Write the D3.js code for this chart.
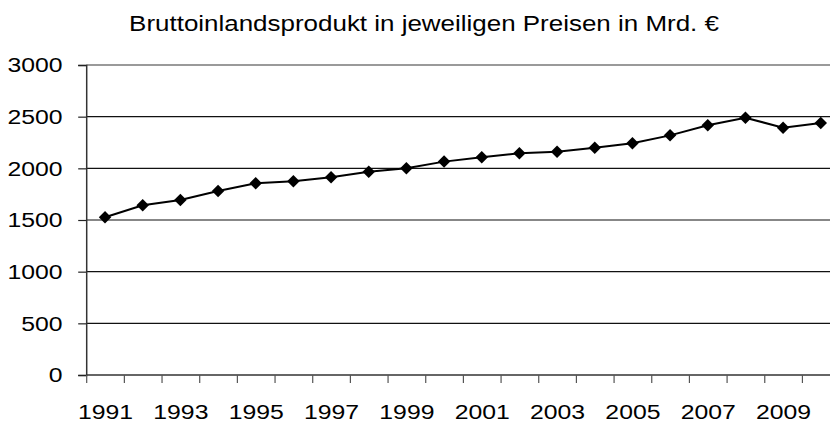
<!DOCTYPE html>
<html>
<head>
<meta charset="utf-8">
<script src="https://cdn.jsdelivr.net/npm/d3@7"></script>
<style>
    body { margin: 0; background: #fff; }
    svg text { font-family: "Liberation Sans", Arial, sans-serif; }
</style>
</head>
<body>
<div id="chart"></div>
<script>
var years = [1991, 1992, 1993, 1994, 1995, 1996, 1997, 1998, 1999, 2000,
             2001, 2002, 2003, 2004, 2005, 2006, 2007, 2008, 2009, 2010];
var gdp = [1526, 1642, 1694, 1781, 1855, 1874, 1913, 1968, 2000, 2065,
           2107, 2145, 2161, 2200, 2242, 2319, 2416, 2490, 2393, 2439];
var yTicks = [0, 500, 1000, 1500, 2000, 2500, 3000];
var xLabels = [1991, 1993, 1995, 1997, 1999, 2001, 2003, 2005, 2007, 2009];
var title = "Bruttoinlandsprodukt in jeweiligen Preisen in Mrd. \u20ac";

var width = 830, height = 422;
var stretch = 1.18; // text in the picture is widened horizontally

var svg = d3.select("#chart").append("svg")
    .attr("width", width)
    .attr("height", height);

// Plot area runs past the right edge of the picture
var x = d3.scaleLinear().domain([1990.5, 2010.5]).range([86.2, 839.6]);
var y = d3.scaleLinear().domain([0, 3000]).range([375, 65]);

// Horizontal grid lines
svg.append("g")
    .selectAll("line")
    .data(yTicks.filter(function(d) { return d > 0; }))
    .enter().append("line")
    .attr("x1", x.range()[0])
    .attr("x2", x.range()[1])
    .attr("y1", function(d) { return y(d); })
    .attr("y2", function(d) { return y(d); })
    .attr("stroke", function(d) { return d === 3000 ? "#9a9a9a" : "#111"; })
    .attr("stroke-width", function(d) { return d === 3000 ? 2 : 1.2; });

// Y axis
var yAxis = svg.append("g")
    .attr("transform", "translate(" + x.range()[0] + ",0)")
    .call(d3.axisLeft(y).tickValues(yTicks).tickSize(8).tickPadding(12)
        .tickFormat(d3.format("d")));
yAxis.attr("font-family", null);
yAxis.select(".domain").attr("stroke", "#333").attr("stroke-width", 1.5);
yAxis.selectAll(".tick line").attr("stroke", "#222").attr("stroke-width", 1.2);
yAxis.selectAll("text")
    .attr("font-size", 21)
    .attr("fill", "#000")
    .attr("transform", "scale(" + stretch + ",1)");

// X axis: tick marks between categories
var boundaries = years.slice(0, -1).map(function(d) { return d + 0.5; });
boundaries.unshift(1990.5);
var xAxis = svg.append("g")
    .attr("transform", "translate(0," + y(0) + ")")
    .call(d3.axisBottom(x).tickValues(boundaries).tickSize(8).tickFormat(""));
xAxis.select(".domain").attr("stroke", "#333").attr("stroke-width", 1.5)
    .attr("d", "M" + x.range()[0] + ",0H" + x.range()[1]);
xAxis.selectAll(".tick line").attr("stroke", "#555").attr("stroke-width", 1.2);

// X axis labels for every other year
var xLab = svg.append("g")
    .attr("transform", "translate(0," + y(0) + ")")
    .call(d3.axisBottom(x).tickValues(xLabels).tickSize(0).tickPadding(29)
        .tickFormat(d3.format("d")));
xLab.attr("font-family", null);
xLab.select(".domain").remove();
xLab.selectAll("text")
    .attr("font-size", 21)
    .attr("fill", "#000")
    .attr("transform", "scale(" + stretch + ",1)");

// Line
var line = d3.line()
    .x(function(d, i) { return x(years[i]); })
    .y(function(d) { return y(d); });

svg.append("path")
    .datum(gdp)
    .attr("fill", "none")
    .attr("stroke", "#000")
    .attr("stroke-width", 2)
    .attr("d", line);

// Diamond markers
svg.selectAll(".marker")
    .data(gdp)
    .enter().append("path")
    .attr("class", "marker")
    .attr("d", d3.symbol().type(d3.symbolSquare).size(78))
    .attr("transform", function(d, i) {
        return "translate(" + x(years[i]) + "," + y(d) + ") rotate(45)";
    })
    .attr("fill", "#000");

// Title
svg.append("text")
    .attr("x", 0)
    .attr("y", 0)
    .attr("transform", "translate(424,31) scale(" + stretch + ",1)")
    .attr("text-anchor", "middle")
    .attr("font-size", 22)
    .attr("fill", "#000")
    .text(title);
</script>
</body>
</html>
